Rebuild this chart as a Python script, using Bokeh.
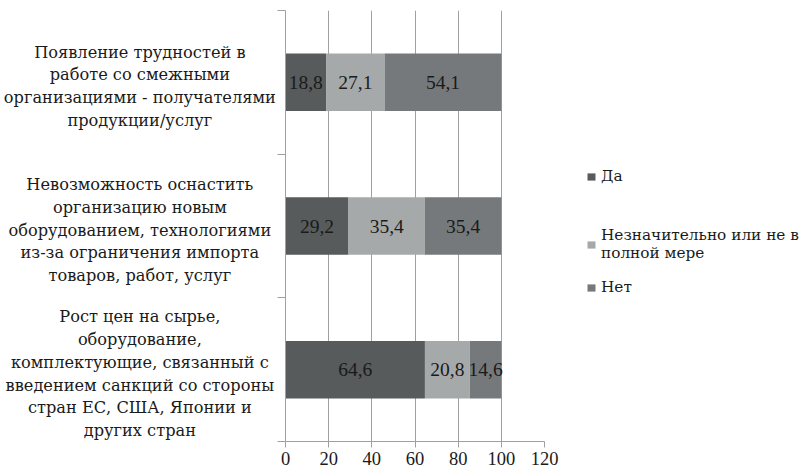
import numpy as np
from bokeh.plotting import figure
from bokeh.models import Legend, LegendItem, FixedTicker, Range1d
from bokeh.layouts import row
from bokeh.core.properties import value
from bokeh.embed import file_html
from bokeh.resources import INLINE

# ---- data ----
category_lines = [
    ["Появление трудностей в", "работе со смежными", "организациями - получателями", "продукции/услуг"],
    ["Невозможность оснастить", "организацию новым", "оборудованием, технологиями", "из-за ограничения импорта", "товаров, работ, услуг"],
    ["Рост цен на сырье,", "оборудование,", "комплектующие, связанный с", "введением санкций со стороны", "стран ЕС, США, Японии и", "других стран"],
]
series_names = ["Да", "Незначительно или не в\nполной мере", "Нет"]
da = [18.8, 29.2, 64.6]
neznach = [27.1, 35.4, 20.8]
net = [54.1, 35.4, 14.6]
x_ticks = [0, 20, 40, 60, 80, 100, 120]

colors = ["#575b5c", "#a6a9aa", "#76797b"]
NUM_FONT = "Liberation Serif"   # digits
CYR_FONT = "DejaVu Serif"       # serif font with Cyrillic glyphs
TXT = "#1a1a1a"

n = len(category_lines)
ys = [n - i - 0.5 for i in range(n)]
yr = Range1d(0, n)

H = 472
TOP, BOTTOM = 10, 31
LEFT_W = 277
MAIN_W = 8 + 259 + 24
RIGHT_W = 808 - LEFT_W - MAIN_W

# ---- left figure: category labels ----
pl = figure(width=LEFT_W, height=H, output_backend="svg", toolbar_location=None,
            x_range=Range1d(0, 1), y_range=yr, x_axis_location=None, y_axis_location=None,
            min_border_left=0, min_border_right=0, min_border_top=TOP, min_border_bottom=BOTTOM)
pl.outline_line_color = None
pl.grid.grid_line_color = None
line_step = 22.8
tx, ty, tt, toff = [], [], [], []
for yc, lines in zip(ys, category_lines):
    mid = (len(lines) - 1) / 2
    for k, t in enumerate(lines):
        tx.append(0.503)
        ty.append(yc)
        tt.append(t)
        toff.append((k - mid) * line_step + 4)
pl.text(x=tx, y=ty, text=tt, y_offset=toff, text_align="center", text_baseline="middle",
        text_font=value(CYR_FONT), text_font_size="16.2px", text_color=TXT)

# ---- main figure ----
p = figure(width=MAIN_W, height=H, output_backend="svg", toolbar_location=None,
           x_range=Range1d(0, 120), y_range=yr,
           min_border_left=8, min_border_right=24, min_border_top=TOP, min_border_bottom=BOTTOM)
p.outline_line_color = None

series = [da, neznach, net]
left = [0.0] * n
for vals, col in zip(series, colors):
    right = [l + v for l, v in zip(left, vals)]
    p.hbar(y=ys, left=left, right=right, height=0.4, fill_color=col, line_color=None)
    mids = [(l + rr) / 2 for l, rr in zip(left, right)]
    labels = [f"{v:.1f}".replace(".", ",") for v in vals]
    p.text(x=mids, y=ys, text=labels, text_align="center", text_baseline="middle",
           text_font=value(NUM_FONT), text_font_size="19.5px", text_color=TXT)
    left = right

p.xaxis.ticker = FixedTicker(ticks=x_ticks)
p.xaxis.axis_line_color = "#a0a0a0"
p.xaxis.major_tick_line_color = "#a0a0a0"
p.xaxis.major_tick_out = 6
p.xaxis.major_tick_in = 0
p.xaxis.minor_tick_line_color = None
p.xaxis.major_label_text_font = NUM_FONT
p.xaxis.major_label_text_font_size = "18.5px"
p.xaxis.major_label_text_color = TXT
p.xaxis.major_label_standoff = 4

p.yaxis.ticker = FixedTicker(ticks=list(range(n + 1)))
p.yaxis.major_label_overrides = {i: "" for i in range(n + 1)}
p.yaxis.major_label_standoff = 0
p.yaxis.axis_line_color = "#a0a0a0"
p.yaxis.major_tick_line_color = "#a0a0a0"
p.yaxis.major_tick_out = 8
p.yaxis.major_tick_in = 0
p.yaxis.minor_tick_line_color = None

p.xgrid.ticker = FixedTicker(ticks=x_ticks)
p.xgrid.grid_line_color = "#a0a0a0"
p.ygrid.grid_line_color = None

# ---- right figure: legend ----
pr = figure(width=RIGHT_W, height=H, output_backend="svg", toolbar_location=None,
            x_range=Range1d(0, 1), y_range=Range1d(0, 1), x_axis_location=None, y_axis_location=None,
            min_border_left=0, min_border_right=0, min_border_top=TOP, min_border_bottom=BOTTOM)
pr.outline_line_color = None
pr.grid.grid_line_color = None
nan = np.array([np.nan])
leg_rs = [pr.hbar(y=nan, left=nan, right=nan, height=0.4, fill_color=c, line_color=None) for c in colors]
leg_y = [256, 179, 145]
for nm, r, yb in zip(series_names, leg_rs, leg_y):
    lg = Legend(items=[LegendItem(label=nm, renderers=[r])], location=(18, yb))
    lg.glyph_width = 10
    lg.glyph_height = 9
    lg.label_text_font = CYR_FONT
    lg.label_text_font_size = "15.3px"
    lg.label_text_color = TXT
    lg.label_standoff = 5
    lg.padding = 0
    lg.margin = 0
    lg.border_line_color = None
    lg.background_fill_alpha = 0
    pr.add_layout(lg)

layout = row(pl, p, pr, spacing=0)
open("out.html", "w").write(file_html(layout, INLINE))
